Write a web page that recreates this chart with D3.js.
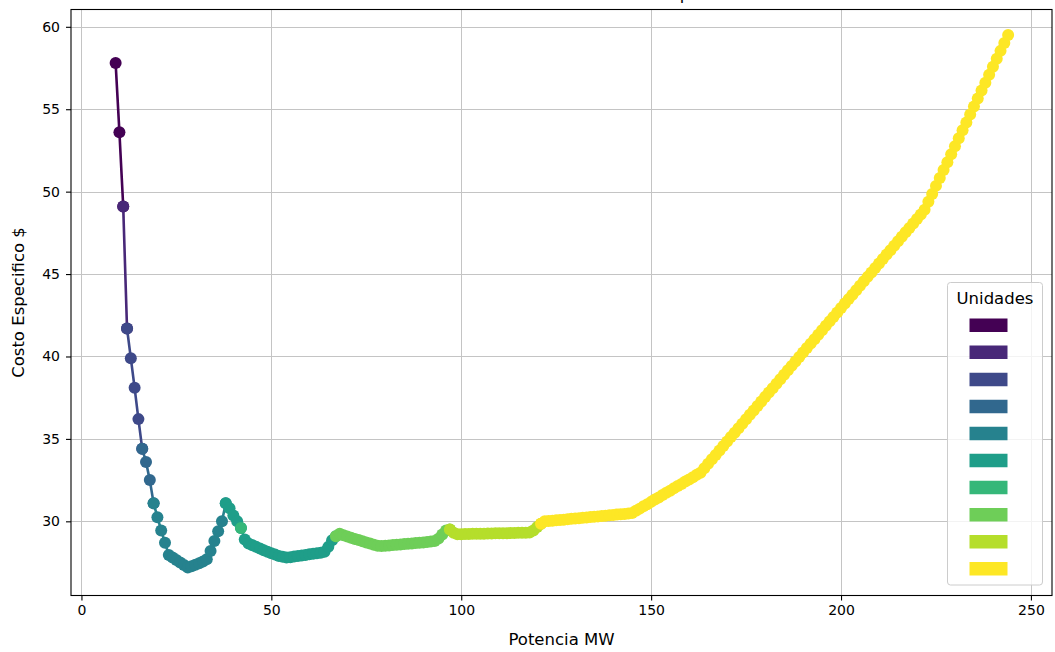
<!DOCTYPE html>
<html>
<head>
<meta charset="utf-8">
<script src="https://cdn.jsdelivr.net/npm/d3@7"></script>
<style>
  html, body { margin: 0; padding: 0; background: #ffffff; }
  svg { display: block; font-family: "DejaVu Sans", sans-serif; }
</style>
</head>
<body>
<svg id="chart" width="1055" height="652"></svg>
<script>
// Specific cost ($) of the committed units, one sample per MW starting at 9 MW
const potenciaInicial = 9;
const costoEspecifico = [
  57.8, 53.6, 49.1, 41.7, 39.9, 38.1, 36.2, 34.4, 33.6, 32.5, 31.1,
  30.25, 29.45, 28.7, 27.95, 27.8, 27.65, 27.5, 27.35, 27.2, 27.28,
  27.37, 27.46, 27.56, 27.7, 28.2, 28.8, 29.4, 30.0, 31.1, 30.8,
  30.35, 30.0, 29.6, 28.9, 28.65, 28.55, 28.45, 28.35, 28.25, 28.15,
  28.07, 27.98, 27.9, 27.85, 27.8, 27.82, 27.86, 27.9, 27.93, 27.96,
  28.0, 28.03, 28.06, 28.1, 28.15, 28.45, 28.85, 29.1, 29.25, 29.15,
  29.08, 29.0, 28.93, 28.86, 28.79, 28.72, 28.65, 28.58, 28.52, 28.5,
  28.52, 28.54, 28.56, 28.58, 28.6, 28.62, 28.64, 28.66, 28.68, 28.7,
  28.72, 28.74, 28.77, 28.8, 28.95, 29.2, 29.45, 29.5, 29.3, 29.22,
  29.22, 29.23, 29.23, 29.24, 29.24, 29.25, 29.25, 29.26, 29.26, 29.27,
  29.27, 29.28, 29.28, 29.29, 29.29, 29.3, 29.3, 29.31, 29.32, 29.45,
  29.65, 29.85, 30.0, 30.02, 30.04, 30.06, 30.08, 30.1, 30.12, 30.15,
  30.17, 30.19, 30.21, 30.23, 30.26, 30.28, 30.3, 30.32, 30.34, 30.37,
  30.39, 30.41, 30.43, 30.45, 30.48, 30.5, 30.64, 30.77, 30.91, 31.04,
  31.18, 31.32, 31.45, 31.59, 31.73, 31.86, 32.0, 32.14, 32.27, 32.41,
  32.54, 32.68, 32.82, 32.95, 33.22, 33.49, 33.76, 34.03, 34.3, 34.57,
  34.84, 35.11, 35.38, 35.65, 35.92, 36.19, 36.46, 36.73, 37.0, 37.27,
  37.54, 37.81, 38.08, 38.35, 38.62, 38.89, 39.16, 39.43, 39.7, 39.97,
  40.24, 40.51, 40.78, 41.05, 41.32, 41.59, 41.86, 42.13, 42.4, 42.67,
  42.94, 43.21, 43.48, 43.75, 44.02, 44.29, 44.56, 44.83, 45.1, 45.37,
  45.64, 45.91, 46.18, 46.45, 46.72, 46.99, 47.26, 47.53, 47.8, 48.07,
  48.34, 48.61, 48.9, 49.38, 49.86, 50.35, 50.83, 51.31, 51.79, 52.27,
  52.76, 53.24, 53.72, 54.2, 54.68, 55.17, 55.65, 56.13, 56.61, 57.09,
  57.58, 58.06, 58.54, 59.02, 59.5
];

// Number of committed units and the MW span [from, to] each one covers
const unidades = [1, 2, 3, 4, 5, 6, 7, 8, 9, 10];
const tramosMW = [
  [9, 11], [11, 12], [12, 16], [16, 19], [19, 38],
  [38, 67], [42, 42], [67, 97], [97, 121], [121, 244]
];

const xTicks = [0, 50, 100, 150, 200, 250];
const yTicks = [30, 35, 40, 45, 50, 55, 60];

const titulo = "Potencia Total Generada vs Costo Especifico";
const etiquetaX = "Potencia MW";
const etiquetaY = "Costo Especifico $";
const tituloLeyenda = "Unidades";

// ---------------------------------------------------------------------------
const svg = d3.select("#chart");
const area = { left: 71, right: 1052, top: 9.5, bottom: 595.5 };

const x = d3.scaleLinear().domain([-2.75, 255.55]).range([area.left, area.right]);
const y = d3.scaleLinear().domain([25.5, 61.05]).range([area.bottom, area.top]);
const color = d3.scaleOrdinal()
  .domain(unidades)
  .range(unidades.map((u, i) => d3.interpolateViridis(i / (unidades.length - 1))));

const puntos = costoEspecifico.map((c, i) => ({ p: potenciaInicial + i, c }));

svg.append("defs").append("clipPath").attr("id", "clip")
  .append("rect")
  .attr("x", area.left).attr("y", area.top)
  .attr("width", area.right - area.left).attr("height", area.bottom - area.top);

// grid
const grid = svg.append("g").attr("stroke", "#c4c4c4").attr("stroke-width", 1);
grid.selectAll("line.gx").data(xTicks).join("line")
  .attr("x1", d => Math.round(x(d)) + 0.5).attr("x2", d => Math.round(x(d)) + 0.5)
  .attr("y1", area.top).attr("y2", area.bottom);
grid.selectAll("line.gy").data(yTicks).join("line")
  .attr("y1", d => Math.round(y(d)) + 0.5).attr("y2", d => Math.round(y(d)) + 0.5)
  .attr("x1", area.left).attr("x2", area.right);

// curve segments, one per unit count
const linea = d3.line().x(d => x(d.p)).y(d => y(d.c));
const capa = svg.append("g").attr("clip-path", "url(#clip)");
tramosMW.forEach(([a, b], i) => {
  const seg = puntos.filter(d => d.p >= a && d.p <= b);
  const col = color(unidades[i]);
  const g = capa.append("g");
  g.append("path")
    .datum(seg)
    .attr("d", linea)
    .attr("fill", "none")
    .attr("stroke", col)
    .attr("stroke-width", 2.6)
    .attr("stroke-linejoin", "round");
  g.selectAll("circle").data(seg).join("circle")
    .attr("cx", d => x(d.p))
    .attr("cy", d => y(d.c))
    .attr("r", 6)
    .attr("fill", col);
});

// frame
svg.append("rect")
  .attr("x", area.left).attr("y", area.top)
  .attr("width", area.right - area.left).attr("height", area.bottom - area.top)
  .attr("fill", "none").attr("stroke", "#000").attr("stroke-width", 1.1);

// axes
const ejeX = svg.append("g")
  .attr("transform", `translate(0,${area.bottom})`)
  .call(d3.axisBottom(x).tickValues(xTicks).tickSize(5).tickPadding(5).tickFormat(d3.format("d")));
const ejeY = svg.append("g")
  .attr("transform", `translate(${area.left},0)`)
  .call(d3.axisLeft(y).tickValues(yTicks).tickSize(5).tickPadding(6).tickFormat(d3.format("d")));
[ejeX, ejeY].forEach(g => {
  g.select(".domain").remove();
  g.attr("font-family", "DejaVu Sans, sans-serif").attr("font-size", 14);
  g.selectAll(".tick line").attr("stroke", "#000").attr("stroke-width", 1.1);
  g.selectAll(".tick text").attr("fill", "#000");
});

// labels
svg.append("text")
  .attr("x", (area.left + area.right) / 2).attr("y", 645)
  .attr("text-anchor", "middle").attr("font-size", 16.5).attr("fill", "#000")
  .text(etiquetaX);
svg.append("text")
  .attr("transform", `translate(24,${(area.top + area.bottom) / 2}) rotate(-90)`)
  .attr("text-anchor", "middle").attr("font-size", 16.5).attr("fill", "#000")
  .text(etiquetaY);
// title sits above the top edge of the figure
svg.append("text")
  .attr("x", (area.left + area.right) / 2).attr("y", -0.5)
  .attr("text-anchor", "middle").attr("font-size", 16.5).attr("fill", "#000")
  .text(titulo);

// legend
const ley = { x: 947.5, y: 282.5, w: 95, h: 302.5 };
const leyenda = svg.append("g");
leyenda.append("rect")
  .attr("x", ley.x).attr("y", ley.y).attr("width", ley.w).attr("height", ley.h)
  .attr("rx", 3).attr("fill", "#fff").attr("fill-opacity", 0.8)
  .attr("stroke", "#cccccc").attr("stroke-width", 1);
leyenda.append("text")
  .attr("x", ley.x + ley.w / 2).attr("y", ley.y + 21)
  .attr("text-anchor", "middle").attr("font-size", 16.5).attr("fill", "#000")
  .text(tituloLeyenda);
leyenda.selectAll("line.h").data(unidades).join("line")
  .attr("x1", 969.5).attr("x2", 1007.5)
  .attr("y1", (d, i) => 325.3 + i * 27.05).attr("y2", (d, i) => 325.3 + i * 27.05)
  .attr("stroke", d => color(d)).attr("stroke-width", 13.5);
</script>
</body>
</html>
